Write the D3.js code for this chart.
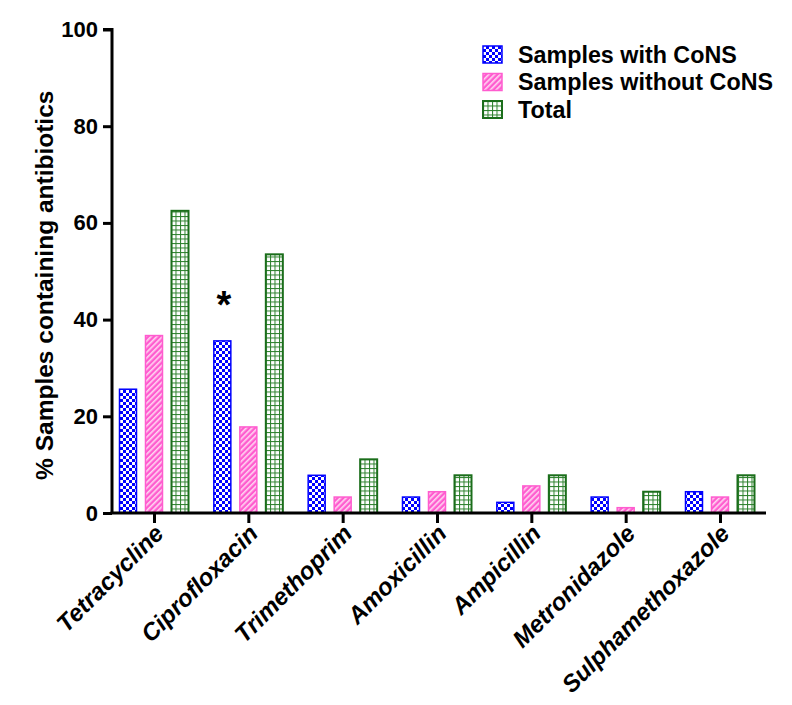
<!DOCTYPE html>
<html>
<head>
<meta charset="utf-8">
<script src="https://cdn.jsdelivr.net/npm/d3@7"></script>
<style>
  html, body { margin: 0; padding: 0; background: #fff; }
  svg { display: block; font-family: "Liberation Sans", Arial, sans-serif; }
</style>
</head>
<body>
<svg id="chart" width="792" height="705"></svg>
<script>
const categories = ["Tetracycline", "Ciprofloxacin", "Trimethoprim", "Amoxicillin", "Ampicillin", "Metronidazole", "Sulphamethoxazole"];
const seriesNames = ["Samples with CoNS", "Samples without CoNS", "Total"];
const withCoNS    = [25.6, 35.6, 7.8, 3.3, 2.2, 3.3, 4.4];
const withoutCoNS = [36.7, 17.8, 3.3, 4.4, 5.6, 1.1, 3.3];
const total       = [62.5, 53.5, 11.1, 7.8, 7.8, 4.4, 7.8];
const yTicks = [0, 20, 40, 60, 80, 100];
const annotations = [{category: "Ciprofloxacin", series: "Samples with CoNS", text: "*"}];

const seriesValues = [withCoNS, withoutCoNS, total];
const seriesStyle = [
  {pattern: "pat-blue", stroke: "#0000ff", sw: 1.5},
  {pattern: "pat-pink", stroke: "#ff5ccf", sw: 1.5},
  {pattern: "pat-green", stroke: "#1b6e1b", sw: 2}
];

const svg = d3.select("#chart");
const defs = svg.append("defs");

// blue checker
const pb = defs.append("pattern").attr("id", "pat-blue").attr("patternUnits", "userSpaceOnUse")
  .attr("width", 6).attr("height", 6);
pb.append("rect").attr("width", 6).attr("height", 6).attr("fill", "#0000ff");
pb.append("rect").attr("x", 0).attr("y", 0).attr("width", 3).attr("height", 3).attr("fill", "#ffffff");
pb.append("rect").attr("x", 3).attr("y", 3).attr("width", 3).attr("height", 3).attr("fill", "#ffffff");

// pink diagonal
const pp = defs.append("pattern").attr("id", "pat-pink").attr("patternUnits", "userSpaceOnUse")
  .attr("width", 4).attr("height", 4).attr("patternTransform", "rotate(45)");
pp.append("rect").attr("width", 4).attr("height", 4).attr("fill", "#ff5ccf");
pp.append("rect").attr("x", 0).attr("width", 1.6).attr("height", 4).attr("fill", "#ffd6f2");

// green grid
const pg = defs.append("pattern").attr("id", "pat-green").attr("patternUnits", "userSpaceOnUse")
  .attr("width", 4.5).attr("height", 4.5);
pg.append("rect").attr("width", 4.5).attr("height", 4.5).attr("fill", "#ffffff");
pg.append("rect").attr("x", 0).attr("y", 0).attr("width", 1).attr("height", 4.5).attr("fill", "#2a7f2a");
pg.append("rect").attr("x", 0).attr("y", 0).attr("width", 4.5).attr("height", 1).attr("fill", "#2a7f2a");

const axisLeftX = 112, axisRightX = 766, baseY = 513, topY = 29.5;

const y = d3.scaleLinear().domain([0, 100]).range([baseY, topY]);
const x = d3.scalePoint().domain(categories).range([154, 720]);
const x1 = d3.scaleBand().domain(seriesNames).range([-34.5, 34.5]).paddingInner(0.346).paddingOuter(0);

// bars
const data = [];
categories.forEach((c, i) => {
  seriesNames.forEach((s, j) => {
    data.push({category: c, series: s, value: seriesValues[j][i], style: seriesStyle[j]});
  });
});

svg.append("g").selectAll("rect").data(data).join("rect")
  .attr("x", d => x(d.category) + x1(d.series))
  .attr("y", d => y(d.value))
  .attr("width", x1.bandwidth())
  .attr("height", d => y(0) - y(d.value))
  .attr("fill", d => `url(#${d.style.pattern})`)
  .attr("stroke", d => d.style.stroke)
  .attr("stroke-width", d => d.style.sw);

// axes
const yAxis = d3.axisLeft(y).tickValues(yTicks).tickSize(9).tickPadding(5).tickFormat(d3.format("d"));
const gy = svg.append("g").attr("transform", `translate(${axisLeftX},0)`).call(yAxis);
gy.select(".domain").attr("stroke-width", 3).attr("d", `M-9,${topY}H0V${baseY}`);
gy.selectAll(".tick line").attr("stroke-width", 3);
gy.selectAll(".tick text").attr("font-size", 22).attr("font-weight", "bold").attr("fill", "#000")
  .attr("font-family", "Liberation Sans, Arial, sans-serif");

const xAxis = d3.axisBottom(x).tickSize(10).tickFormat("");
const gx = svg.append("g").attr("transform", `translate(0,${baseY})`).call(xAxis);
gx.select(".domain").attr("d", `M${axisLeftX - 1.5},0H${axisRightX}`).attr("stroke-width", 3);
gx.selectAll(".tick line").attr("stroke-width", 3);

// x labels
svg.append("g").selectAll("text").data(categories).join("text")
  .attr("transform", d => `translate(${x(d) + 11},${baseY + 22}) rotate(-45)`)
  .attr("text-anchor", "end")
  .attr("font-size", 24)
  .attr("font-weight", "bold")
  .attr("font-style", "italic")
  .attr("font-family", "Liberation Sans, Arial, sans-serif")
  .attr("fill", "#000")
  .text(d => d);

// y label
svg.append("text")
  .attr("transform", `translate(53,${(baseY + topY) / 2 + 14}) rotate(-90)`)
  .attr("text-anchor", "middle")
  .attr("font-size", 24.5)
  .attr("font-weight", "bold")
  .attr("fill", "#000")
  .text("% Samples containing antibiotics");

// annotations
svg.append("g").selectAll("text").data(annotations).join("text")
  .attr("x", d => x(d.category) + x1(d.series) + x1.bandwidth() / 2 + 1.5)
  .attr("y", d => y(withCoNS[categories.indexOf(d.category)]) - 23)
  .attr("text-anchor", "middle")
  .attr("font-size", 38)
  .attr("font-weight", "bold")
  .attr("fill", "#000")
  .text(d => d.text);

// legend
const legend = svg.append("g").attr("transform", "translate(483,46)");
const li = legend.selectAll("g").data(seriesNames).join("g")
  .attr("transform", (d, i) => `translate(0,${i * 27.5})`);
li.append("rect")
  .attr("width", 19).attr("height", 17)
  .attr("fill", (d, i) => `url(#${seriesStyle[i].pattern})`)
  .attr("stroke", (d, i) => seriesStyle[i].stroke)
  .attr("stroke-width", (d, i) => seriesStyle[i].sw);
li.append("text")
  .attr("x", 35).attr("y", 8.5).attr("dy", "0.36em")
  .attr("font-size", 23.3)
  .attr("font-weight", "bold")
  .attr("fill", "#000")
  .text(d => d);
</script>
</body>
</html>
